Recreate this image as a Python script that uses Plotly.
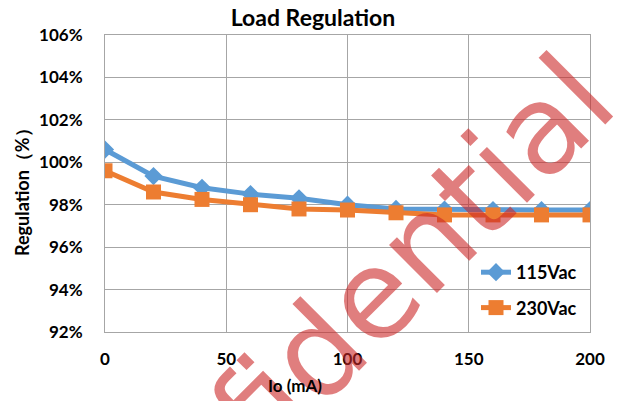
import plotly.graph_objects as go

# Data
io_ma = [0, 20, 40, 60, 80, 100, 120, 140, 160, 180, 200]
reg_115vac = [100.6, 99.35, 98.8, 98.5, 98.3, 98.0, 97.8, 97.77, 97.75, 97.75, 97.75]
reg_230vac = [99.6, 98.6, 98.25, 98.0, 97.8, 97.75, 97.62, 97.52, 97.52, 97.52, 97.52]
y_ticks = [92, 94, 96, 98, 100, 102, 104, 106]
x_ticks = [0, 50, 100, 150, 200]

FONT = "Lato"
BLUE = "#5B9BD5"
ORANGE = "#ED7D31"
GRID = "#A6A6A6"

fig = go.Figure()
fig.add_trace(go.Scatter(
    x=io_ma, y=reg_115vac, name="115Vac", mode="lines+markers",
    line=dict(color=BLUE, width=5),
    marker=dict(symbol="diamond", size=14, color=BLUE),
    legendgroup="a",
))
fig.add_trace(go.Scatter(
    x=io_ma, y=reg_230vac, name="230Vac", mode="lines+markers",
    line=dict(color=ORANGE, width=5),
    marker=dict(symbol="square", size=15, color=ORANGE),
    legendgroup="b",
))

fig.update_layout(
    width=617, height=401,
    margin=dict(l=105, r=27, t=35, b=69),
    paper_bgcolor="white", plot_bgcolor="white",
    font=dict(family=FONT, color="black"),
    title=dict(text="Load Regulation", x=313 / 617, xanchor="center",
               y=1 - 18 / 401, yanchor="middle", font=dict(size=23, family=FONT, weight="bold")),
    showlegend=True,
    legend=dict(x=(476 - 105) / 485, xanchor="left", y=(332 - 254) / 297, yanchor="top",
                bgcolor="rgba(0,0,0,0)", font=dict(size=18, family=FONT, weight="bold"),
                traceorder="grouped", tracegroupgap=9),
    xaxis=dict(range=[0, 200], tickvals=x_ticks, ticktext=[str(v) for v in x_ticks],
               showgrid=True, gridcolor=GRID, gridwidth=1,
               showline=True, linecolor=GRID, linewidth=1, mirror=True,
               zeroline=False, ticks="", ticklabelstandoff=12,
               tickfont=dict(size=17, family=FONT, weight="bold")),
    yaxis=dict(range=[92, 106], tickvals=y_ticks, ticktext=[f"{v}%" for v in y_ticks],
               showgrid=True, gridcolor=GRID, gridwidth=1,
               showline=True, linecolor=GRID, linewidth=1, mirror=True,
               zeroline=False, ticks="", ticklabelstandoff=18,
               tickfont=dict(size=17, family=FONT, weight="bold")),
)

# Watermark (drawn first so later annotations sit on top)
fig.add_annotation(text="Confidential", xref="paper", yref="paper",
                   x=(327 - 105) / 485, y=(332 - 342) / 297, xanchor="center", yanchor="middle",
                   textangle=-45, showarrow=False,
                   font=dict(size=124, family="DejaVu Sans", color="rgba(204,40,40,0.6)"))

# Axis titles
fig.add_annotation(text="Io (mA)", xref="paper", yref="paper",
                   x=(295 - 105) / 485, y=(332 - 385) / 297, xanchor="center", yanchor="middle",
                   showarrow=False, font=dict(size=17, family=FONT, weight="bold"))
fig.add_annotation(text="Regulation（%）", xref="paper", yref="paper",
                   x=(22 - 105) / 485, y=(332 - 188) / 297, xanchor="center", yanchor="middle",
                   textangle=-90, showarrow=False, font=dict(size=18, family=FONT, weight="bold"))

fig.write_html("out.html", post_script="document.body.style.margin='0';",
               config={"displayModeBar": False})
